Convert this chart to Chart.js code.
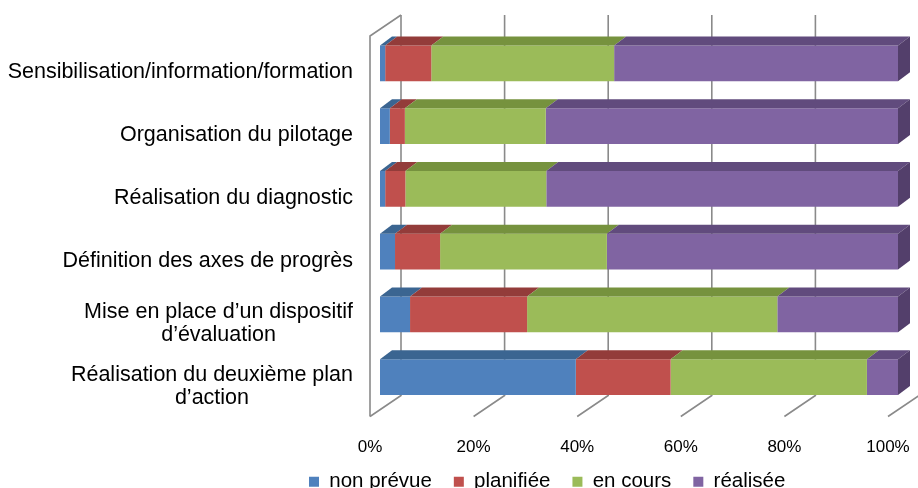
<!DOCTYPE html>
<html>
<head>
<meta charset="utf-8">
<script src="https://cdn.jsdelivr.net/npm/chart.js@4.4.1/dist/chart.umd.min.js"></script>
<style>
  html, body { margin: 0; padding: 0; overflow: hidden; background: #fff; }
  #wrap { width: 918px; height: 522px; position: relative; }
</style>
</head>
<body>
<div id="wrap"><canvas id="c" width="918" height="522"></canvas></div>
<script>
// ---- data ----
const categories = [
  'Sensibilisation/information/formation',
  'Organisation du pilotage',
  'Réalisation du diagnostic',
  'Définition des axes de progrès',
  ['Mise en place d’un dispositif', 'd’évaluation'],
  ['Réalisation du deuxième plan', 'd’action']
];
const seriesNames = ['non prévue', 'planifiée', 'en cours', 'réalisée'];
const nonPrevue = [1, 1.9, 1, 2.9, 5.8, 37.8];
const planifiee = [8.9, 2.9, 3.9, 8.7, 22.6, 18.3];
const enCours   = [35.3, 27.2, 27.2, 32.2, 48.3, 37.9];
const realisee  = [54.8, 68, 67.9, 56.2, 23.3, 6];
const xTickValues = [0, 20, 40, 60, 80, 100];

// ---- styles ----
const frontColors = ['#4f81bd', '#c0504d', '#9bbb59', '#8064a2'];
const topColors   = ['#3b6591', '#933c3a', '#76923e', '#614b7d'];
const sideColors  = ['#345a82', '#843533', '#6a8438', '#533f6b'];
const gridColor = '#8a8a8a';
const FONT = '"Liberation Sans", Arial, sans-serif';

const D = { bx: 12, by: 9 };          // bar depth
const W = { back: 21, dx: 31, dy: 21 }; // wall geometry
const LEGEND_PAD = 22;

const bar3d = {
  id: 'bar3d',
  afterLayout(chart) {
    const lg = chart.legend;
    if (lg) {
      const w = lg.right - lg.left;
      lg.left = 309 - LEGEND_PAD; lg.right = lg.left + w;
      lg.top -= 12; lg.bottom -= 12;
    }
  },
  beforeDatasetsDraw(chart) {
    const ctx = chart.ctx, xs = chart.scales.x, a = chart.chartArea;
    const backTop = a.top - 17, backBottom = a.bottom - 13;
    ctx.save();
    ctx.strokeStyle = gridColor;
    ctx.lineWidth = 1.6;
    xTickValues.forEach(v => {
      const x = xs.getPixelForValue(v) + W.back;
      ctx.beginPath();
      ctx.moveTo(x, backTop);
      ctx.lineTo(x, backBottom);
      ctx.lineTo(x - W.dx, backBottom + W.dy);
      ctx.stroke();
    });
    const x0 = xs.getPixelForValue(0) + W.back;
    ctx.beginPath();
    ctx.moveTo(x0, backTop);
    ctx.lineTo(x0 - W.dx, backTop + W.dy);
    ctx.lineTo(x0 - W.dx, backBottom + W.dy);
    ctx.stroke();
    ctx.restore();
  },
  afterDatasetsDraw(chart) {
    const ctx = chart.ctx;
    const n = chart.data.datasets.length;
    ctx.save();
    for (let d = 0; d < n; d++) {
      const meta = chart.getDatasetMeta(d);
      meta.data.forEach((el, i) => {
        const p = el.getProps(['x', 'y', 'base', 'height'], true);
        const xl = Math.min(p.x, p.base), xr = Math.max(p.x, p.base);
        const t = p.y - p.height / 2, b = p.y + p.height / 2;
        if (xr - xl <= 0) return;
        ctx.fillStyle = topColors[d];
        ctx.beginPath();
        ctx.moveTo(xl, t);
        ctx.lineTo(xl + D.bx, t - D.by);
        ctx.lineTo(xr + D.bx, t - D.by);
        ctx.lineTo(xr, t);
        ctx.closePath();
        ctx.fill();
        if (d === n - 1) {
          ctx.fillStyle = sideColors[d];
          ctx.beginPath();
          ctx.moveTo(xr, t);
          ctx.lineTo(xr + D.bx, t - D.by);
          ctx.lineTo(xr + D.bx, b - D.by);
          ctx.lineTo(xr, b);
          ctx.closePath();
          ctx.fill();
        }
      });
    }
    ctx.restore();
  },
  afterDraw(chart) {
    const ctx = chart.ctx, ys = chart.scales.y, a = chart.chartArea;
    ctx.save();
    ctx.font = '21.5px ' + FONT;
    ctx.fillStyle = '#000';
    ctx.textAlign = 'center';
    ctx.textBaseline = 'middle';
    const right = a.left - 27, lh = 23;
    chart.data.labels.forEach((lab, i) => {
      const lines = Array.isArray(lab) ? lab : [lab];
      const bw = Math.max(...lines.map(l => ctx.measureText(l).width));
      const cx = right - bw / 2;
      const yc = ys.getPixelForValue(i) + 9;
      lines.forEach((l, j) => {
        ctx.fillText(l, cx, yc - (lines.length - 1) * lh / 2 + j * lh);
      });
    });
    ctx.restore();
  }
};

const datasets = [nonPrevue, planifiee, enCours, realisee].map((vals, k) => ({
  label: seriesNames[k],
  data: vals,
  backgroundColor: frontColors[k],
  borderWidth: 0,
  barPercentage: 0.573,
  categoryPercentage: 1.0
}));

new Chart(document.getElementById('c'), {
  type: 'bar',
  data: { labels: categories, datasets },
  plugins: [bar3d],
  options: {
    indexAxis: 'y',
    responsive: false,
    animation: false,
    layout: { padding: { left: 0, right: 20, top: 32, bottom: 8 } },
    scales: {
      x: {
        stacked: true, min: 0, max: 100,
        border: { display: false },
        grid: { display: false, drawTicks: false },
        afterFit(s) { s.height = 53; s.paddingLeft = 0; s.paddingRight = 0; },
        afterBuildTicks(s) { s.ticks = xTickValues.map(v => ({ value: v })); },
        ticks: {
          padding: 29,
          labelOffset: -10,
          color: '#000',
          font: { family: FONT, size: 17 },
          callback: v => v + '%'
        }
      },
      y: {
        stacked: true,
        border: { display: false },
        grid: { display: false, drawTicks: false },
        ticks: { display: false },
        afterFit(s) { s.width = 380; }
      }
    },
    plugins: {
      tooltip: { enabled: false },
      legend: {
        position: 'bottom',
        align: 'start',
        labels: {
          boxWidth: 10, boxHeight: 10, padding: LEGEND_PAD,
          color: '#000',
          font: { family: FONT, size: 20.5 }
        }
      }
    }
  }
});
</script>
</body>
</html>
